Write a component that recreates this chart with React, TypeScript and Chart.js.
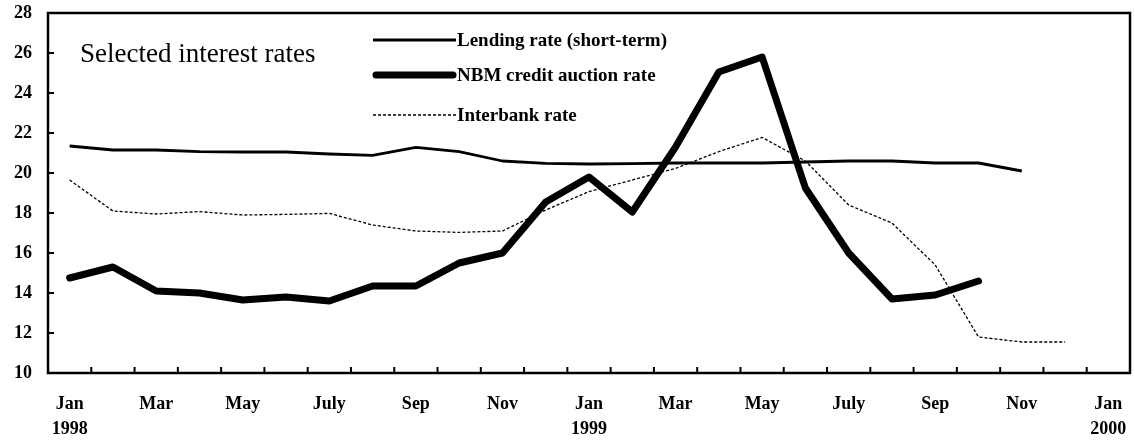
import React, { useEffect, useRef } from 'react';
import { Chart, registerables } from 'chart.js';

Chart.register(...registerables);

const categories = [
  '1998-01', '1998-02', '1998-03', '1998-04', '1998-05', '1998-06', '1998-07', '1998-08',
  '1998-09', '1998-10', '1998-11', '1998-12', '1999-01', '1999-02', '1999-03', '1999-04',
  '1999-05', '1999-06', '1999-07', '1999-08', '1999-09', '1999-10', '1999-11', '1999-12',
  '2000-01',
];

const xTickLabels = [
  'Jan\n1998', '', 'Mar', '', 'May', '', 'July', '', 'Sep', '', 'Nov', '',
  'Jan\n1999', '', 'Mar', '', 'May', '', 'July', '', 'Sep', '', 'Nov', '',
  'Jan\n2000',
];

const yMin = 10;
const yMax = 28;
const yStep = 2;

const lendingRate = [
  21.35, 21.15, 21.15, 21.07, 21.05, 21.05, 20.95, 20.88, 21.28, 21.07, 20.6, 20.48,
  20.45, 20.47, 20.5, 20.5, 20.5, 20.55, 20.6, 20.6, 20.5, 20.5, 20.1, null, null,
];

const nbmAuctionRate = [
  14.75, 15.3, 14.1, 14.0, 13.65, 13.8, 13.6, 14.35, 14.35, 15.5, 16.0, 18.55,
  19.8, 18.05, 21.3, 25.05, 25.8, 19.25, 16.0, 13.7, 13.9, 14.6, null, null, null,
];

const interbankRate = [
  19.65, 18.1, 17.95, 18.07, 17.9, 17.93, 17.98, 17.4, 17.1, 17.03, 17.1, 18.15,
  19.07, 19.65, 20.23, 21.07, 21.78, 20.6, 18.4, 17.5, 15.4, 11.8, 11.55, 11.55, null,
];

const seriesLabels = ['Lending rate (short-term)', 'NBM credit auction rate', 'Interbank rate'];
const chartTitle = 'Selected interest rates';

const SERIF = '"Liberation Serif", "Times New Roman", serif';

const framePlugin = {
  id: 'frame',
  afterDraw(chart: any) {
    const { ctx, chartArea: a, scales } = chart;
    const xs = scales.x;
    const ys = scales.y;
    ctx.save();
    ctx.strokeStyle = '#000';
    ctx.lineCap = 'butt';
    ctx.setLineDash([]);
    ctx.lineWidth = 2.5;
    ctx.strokeRect(a.left, a.top, a.right - a.left, a.bottom - a.top);

    ctx.lineWidth = 2;
    ys.ticks.forEach((t: any) => {
      const py = ys.getPixelForValue(t.value);
      ctx.beginPath();
      ctx.moveTo(a.left, py);
      ctx.lineTo(a.left + 6, py);
      ctx.stroke();
    });
    for (let i = 0; i < categories.length - 1; i++) {
      const px = (xs.getPixelForValue(i) + xs.getPixelForValue(i + 1)) / 2;
      ctx.beginPath();
      ctx.moveTo(px, a.bottom);
      ctx.lineTo(px, a.bottom - 6);
      ctx.stroke();
    }

    // title
    ctx.fillStyle = '#000';
    ctx.font = `27px ${SERIF}`;
    ctx.textAlign = 'left';
    ctx.textBaseline = 'alphabetic';
    ctx.fillText(chartTitle, 80, 62);

    // legend
    const rows = [40, 75, 115];
    chart.data.datasets.forEach((ds: any, i: number) => {
      const y = rows[i];
      ctx.save();
      ctx.strokeStyle = ds.borderColor;
      ctx.lineWidth = ds.borderWidth;
      ctx.setLineDash(ds.borderDash || []);
      ctx.lineCap = ds.borderCapStyle || 'butt';
      ctx.beginPath();
      ctx.moveTo(ds.borderWidth > 4 ? 376 : 373, y);
      ctx.lineTo(ds.borderWidth > 4 ? 453 : 456, y);
      ctx.stroke();
      ctx.restore();
      ctx.fillStyle = '#000';
      ctx.font = `bold 19px ${SERIF}`;
      ctx.fillText(ds.label, 457, y + 6);
    });
    ctx.restore();
  },
};

export default function App() {
  const ref = useRef<HTMLCanvasElement | null>(null);

  useEffect(() => {
    if (!ref.current) return;
    const tickFont = { family: SERIF, size: 18, weight: 'bold' as const, lineHeight: 1.4 };
    const chart = new Chart(ref.current, {
      type: 'line',
      data: {
        labels: categories,
        datasets: [
          {
            label: seriesLabels[0],
            data: lendingRate,
            borderColor: '#000',
            borderWidth: 2.8,
            pointRadius: 0,
            tension: 0,
            borderJoinStyle: 'round',
          },
          {
            label: seriesLabels[1],
            data: nbmAuctionRate,
            borderColor: '#000',
            borderWidth: 7,
            pointRadius: 0,
            tension: 0,
            borderJoinStyle: 'round',
            borderCapStyle: 'round',
          },
          {
            label: seriesLabels[2],
            data: interbankRate,
            borderColor: '#000',
            borderWidth: 1.3,
            borderDash: [3, 2],
            pointRadius: 0,
            tension: 0,
          },
        ],
      },
      options: {
        animation: false,
        responsive: true,
        maintainAspectRatio: false,
        layout: { padding: { top: 13, right: 5, left: 0, bottom: 0 } },
        plugins: {
          legend: { display: false },
          tooltip: { enabled: false },
          title: { display: false },
        },
        scales: {
          x: {
            type: 'category',
            offset: true,
            grid: { display: false, drawTicks: false },
            border: { display: false },
            ticks: {
              autoSkip: false,
              maxRotation: 0,
              minRotation: 0,
              padding: 19,
              color: '#000',
              font: tickFont,
              callback: (_v: any, i: number) => {
                const l = xTickLabels[i];
                return l.includes('\n') ? l.split('\n') : l;
              },
            },
            afterFit: (s: any) => {
              s.height = 73;
              s.paddingLeft = 0;
              s.paddingRight = 0;
              s.paddingTop = 0;
              s.paddingBottom = 0;
            },
          },
          y: {
            min: yMin,
            max: yMax,
            grid: { display: false, drawTicks: false },
            border: { display: false },
            ticks: {
              stepSize: yStep,
              padding: 16,
              color: '#000',
              font: { family: SERIF, size: 18, weight: 'bold' as const },
            },
            afterFit: (s: any) => {
              s.width = 48;
              s.paddingLeft = 0;
              s.paddingRight = 0;
              s.paddingTop = 0;
              s.paddingBottom = 0;
            },
          },
        },
      },
      plugins: [framePlugin],
    });
    return () => chart.destroy();
  }, []);

  return (
    <div style={{ position: 'fixed', left: 0, top: 0, width: 1135, height: 446, background: '#fff' }}>
      <canvas ref={ref} />
    </div>
  );
}
